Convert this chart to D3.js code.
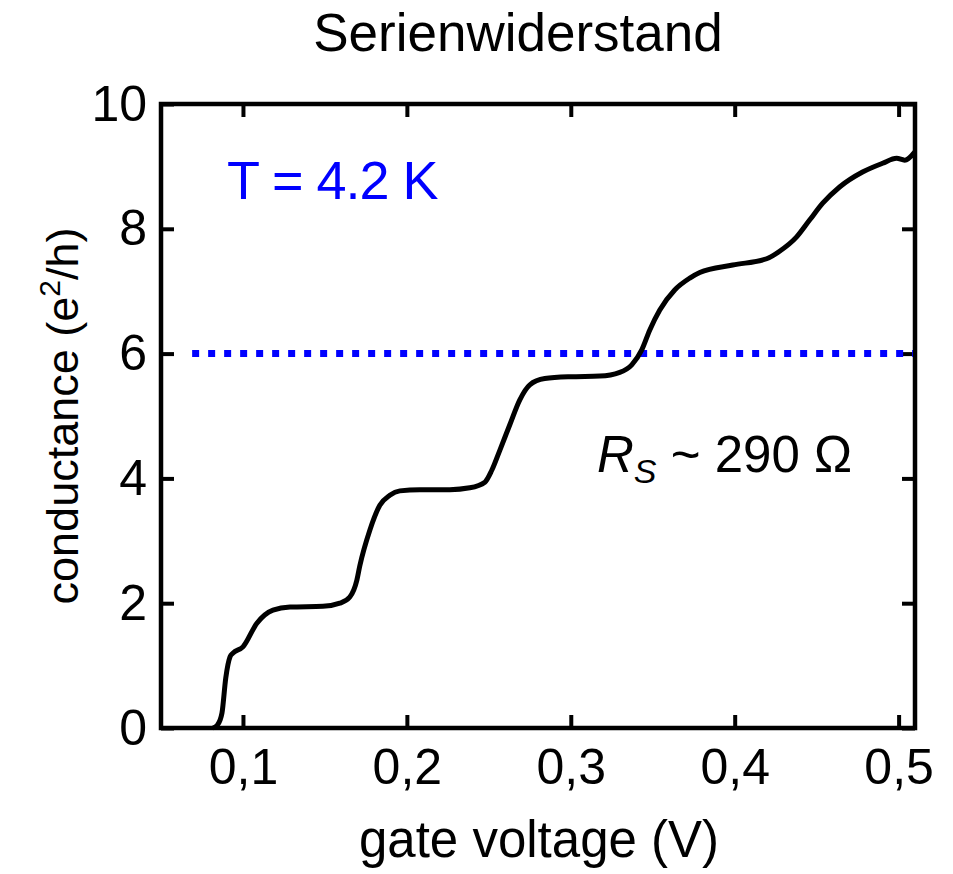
<!DOCTYPE html>
<html>
<head>
<meta charset="utf-8">
<script src="https://cdn.jsdelivr.net/npm/d3@7"></script>
<style>
  html, body { margin: 0; padding: 0; background: #fff; }
  svg text { font-family: "Liberation Sans", Arial, sans-serif; fill: #000; }
</style>
</head>
<body>
<div id="chart"></div>
<script>
// gate voltage (V) and conductance (e^2/h)
const gateVoltage = [0.0817, 0.0845, 0.0872, 0.0895, 0.0921, 0.0939, 0.1, 0.1085, 0.1183, 0.1287,
  0.1488, 0.1591, 0.1652, 0.1695, 0.1713, 0.1774, 0.1835, 0.1896, 0.1957, 0.2079,
  0.2262, 0.2384, 0.2476, 0.2518, 0.2567, 0.2628, 0.2689, 0.275, 0.2841, 0.2994,
  0.3177, 0.3299, 0.3372, 0.3433, 0.3482, 0.3543, 0.3634, 0.3726, 0.3787, 0.3988,
  0.4195, 0.4274, 0.4378, 0.4457, 0.4537, 0.464, 0.478, 0.4902, 0.4988, 0.5037, 0.5098];
const conductance = [0, 0.05, 0.24, 0.8, 1.14, 1.2, 1.3, 1.68, 1.89, 1.94,
  1.95, 2.0, 2.1, 2.37, 2.6, 3.17, 3.57, 3.73, 3.8, 3.82,
  3.82, 3.85, 3.94, 4.13, 4.45, 4.86, 5.26, 5.5, 5.6, 5.63,
  5.64, 5.7, 5.82, 6.06, 6.38, 6.7, 7.02, 7.21, 7.3, 7.42,
  7.52, 7.64, 7.87, 8.14, 8.41, 8.67, 8.91, 9.05, 9.13, 9.1, 9.23];

const xTicks = [0.1, 0.2, 0.3, 0.4, 0.5];
const yTicks = [0, 2, 4, 6, 8, 10];
const seriesResistanceLevel = 6;
const levelStart = 0.069;

const width = 953, height = 874;
const margin = {top: 104, right: 38, bottom: 146, left: 161};

const svg = d3.select("#chart").append("svg")
  .attr("width", width)
  .attr("height", height);

const x = d3.scaleLinear().domain([0.05, 0.51]).range([margin.left, width - margin.right]);
const y = d3.scaleLinear().domain([0, 10]).range([height - margin.bottom, margin.top]);

const fmt = d => d3.format(".1f")(d).replace(".", ",");
const tickLen = 13;

// ticks pointing inward on all four sides
svg.append("g")
  .attr("transform", `translate(0,${y(0)})`)
  .call(d3.axisBottom(x).tickValues(xTicks).tickSize(-tickLen).tickPadding(20).tickFormat(fmt))
  .call(g => g.select(".domain").remove());
svg.append("g")
  .attr("transform", `translate(0,${y(10)})`)
  .call(d3.axisTop(x).tickValues(xTicks).tickSize(-tickLen).tickFormat(""))
  .call(g => g.select(".domain").remove());
svg.append("g")
  .attr("transform", `translate(${x(0.05)},0)`)
  .call(d3.axisLeft(y).tickValues(yTicks).tickSize(-tickLen).tickPadding(14))
  .call(g => g.select(".domain").remove());
svg.append("g")
  .attr("transform", `translate(${x(0.51)},0)`)
  .call(d3.axisRight(y).tickValues(yTicks).tickSize(-tickLen).tickFormat(""))
  .call(g => g.select(".domain").remove());

svg.selectAll(".tick line").attr("stroke", "#000").attr("stroke-width", 4);
svg.selectAll(".tick text").attr("font-size", 50).attr("fill", "#000");

// frame
svg.append("rect")
  .attr("x", x(0.05))
  .attr("y", y(10))
  .attr("width", x(0.51) - x(0.05))
  .attr("height", y(0) - y(10))
  .attr("fill", "none")
  .attr("stroke", "#000")
  .attr("stroke-width", 4.5);

// dotted level line
svg.append("line")
  .attr("x1", x(levelStart))
  .attr("x2", x(0.51) - 2)
  .attr("y1", y(seriesResistanceLevel))
  .attr("y2", y(seriesResistanceLevel))
  .attr("stroke", "#0000ff")
  .attr("stroke-width", 7)
  .attr("stroke-dasharray", "7,9");

const points = gateVoltage.map((v, i) => [v, conductance[i]]);
const line = d3.line()
  .x(d => x(d[0]))
  .y(d => y(d[1]))
  .curve(d3.curveMonotoneX);

svg.append("path")
  .datum(points)
  .attr("d", line)
  .attr("fill", "none")
  .attr("stroke", "#000")
  .attr("stroke-width", 5)
  .attr("stroke-linejoin", "round");

// texts
svg.append("text")
  .attr("x", 518).attr("y", 51)
  .attr("text-anchor", "middle")
  .attr("font-size", 53)
  .text("Serienwiderstand");

svg.append("text")
  .attr("x", 539).attr("y", 857)
  .attr("text-anchor", "middle")
  .attr("font-size", 51)
  .text("gate voltage (V)");

const yTitle = svg.append("text")
  .attr("transform", "translate(78,416) rotate(-90)")
  .attr("text-anchor", "middle")
  .attr("font-size", 45);
yTitle.append("tspan").text("conductance (e");
yTitle.append("tspan").attr("font-size", 30).attr("dy", -18).text("2");
yTitle.append("tspan").attr("dy", 18).text("/h)");

svg.append("text")
  .attr("x", 227).attr("y", 199)
  .attr("font-size", 54)
  .attr("letter-spacing", -1)
  .style("fill", "#0000ff")
  .text("T = 4.2 K");

const rs = svg.append("text")
  .attr("x", 597).attr("y", 472)
  .attr("font-size", 51);
rs.append("tspan").attr("font-style", "italic").text("R");
rs.append("tspan").attr("font-style", "italic").attr("font-size", 34).attr("dy", 11).text("S");
rs.append("tspan").attr("dy", -11).text(" ~ 290 Ω");
</script>
</body>
</html>
